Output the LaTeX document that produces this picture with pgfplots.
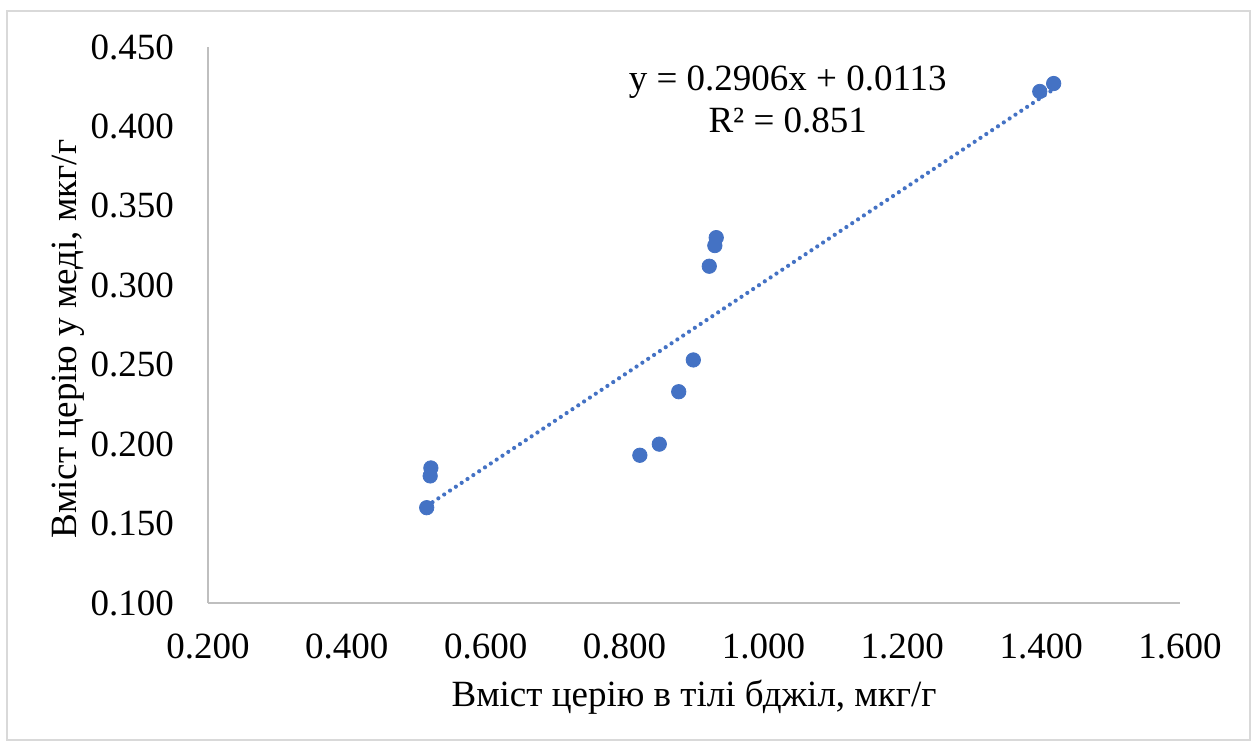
\documentclass[border=0pt]{standalone}
\usepackage{pgfplots}
\pgfplotsset{compat=1.18}
\usepackage{fontspec}
\setmainfont{Liberation Serif}
\definecolor{ptblue}{HTML}{4472C4}
\definecolor{axgray}{HTML}{BFBFBF}
\definecolor{bordergray}{HTML}{D9D9D9}
\begin{document}
\begin{tikzpicture}
\useasboundingbox (-104pt,-70.5pt) rectangle (524pt,301.5pt);
\draw[bordergray, line width=1pt] (-100.5pt,-68.5pt) rectangle (521pt,296pt);
\begin{axis}[
  at={(0,0)}, anchor=origin,
  scale only axis, width=486pt, height=278pt,
  xmin=0.2, xmax=1.6, ymin=0.1, ymax=0.45,
  xtick={0.2,0.4,...,1.6}, ytick={0.1,0.15,...,0.45},
  axis x line*=bottom, axis y line*=left,
  axis line style={axgray, line width=0.75pt, -},
  tick style={draw=none},
  major tick length=0pt,
  font=\fontsize{18.5}{20}\selectfont,
  /pgf/number format/.cd, fixed, fixed zerofill, precision=3, assume math mode=true,
  /pgfplots/.cd,
  xticklabel style={yshift=-12pt},
  yticklabel style={xshift=-13.5pt},
  clip=false,
]
\addplot[only marks, mark=*, mark size=3.6pt, mark options={draw=ptblue, fill=ptblue}] coordinates {
 (0.515,0.160) (0.520,0.180) (0.521,0.185) (0.822,0.193) (0.850,0.200)
 (0.878,0.233) (0.899,0.253) (0.922,0.312) (0.930,0.325) (0.932,0.330)
 (1.398,0.422) (1.418,0.427)
};
\addplot[ptblue, line width=2.1pt, line cap=round, dash pattern=on 0pt off 3.5pt] coordinates {
 (0.515,0.1610) (1.418,0.4234)
};
\node[align=center, font=\fontsize{18.5}{21}\selectfont] at (axis cs:1.035,0.417) {y = 0.2906x + 0.0113\\R² = 0.851};
\end{axis}
\node[rotate=90, font=\fontsize{18.5}{20}\selectfont] at (-70pt,132pt) {Вміст церію у меді, мкг/г};
\node[font=\fontsize{18.5}{20}\selectfont] at (243pt,-47pt) {Вміст церію в тілі бджіл, мкг/г};
\end{tikzpicture}
\end{document}
